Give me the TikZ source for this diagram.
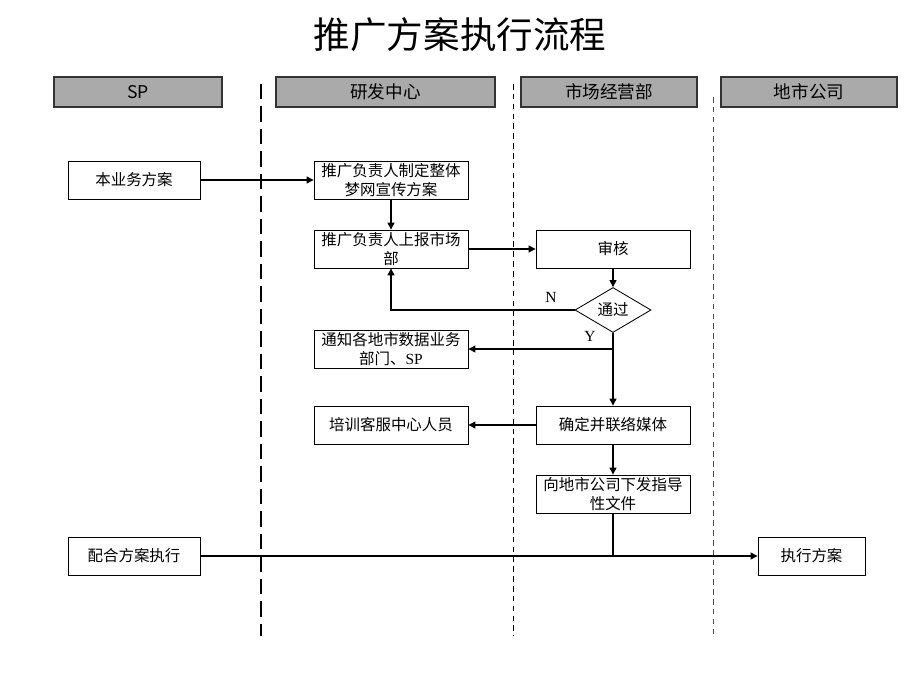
\documentclass[tikz,border=0pt]{standalone}
\usepackage{fontspec}
\setmainfont{Liberation Serif}
\newfontfamily\cjk{Noto Sans CJK SC}
\usetikzlibrary{arrows.meta,shapes.geometric}
\definecolor{lanegray}{RGB}{170,170,170}
\tikzset{
	lanehead/.style={draw=black!80, line width=0.9pt, fill=lanegray, minimum width=#1, minimum height=0.75cm, inner sep=0pt, font=\cjk\fontsize{12.5}{14}\selectfont},
	stepbox/.style={draw, line width=0.6pt, fill=white, minimum width=3.85cm, minimum height=0.95cm, inner sep=1pt, align=center, font=\cjk\fontsize{11}{13}\selectfont},
	decision/.style={draw, line width=0.6pt, fill=white, diamond, minimum width=1.9cm, minimum height=0.95cm, inner sep=0pt, font=\cjk\fontsize{11}{13}\selectfont},
	flowarrow/.style={line width=0.8pt, -{Triangle[length=5pt,width=5pt]}},
	flowline/.style={line width=0.8pt},
	branchlabel/.style={font=\fontsize{11}{13}\selectfont, inner sep=1pt}
}
\begin{document}
\begin{tikzpicture}[x=0.025cm, y=-0.025cm]
			%%%%% START %%%%%
			\useasboundingbox (0, 0) rectangle (920, 690);
			
			\node (title) at (460, 35) {\cjk\fontsize{26}{28}\selectfont 推广方案执行流程};
			
			% swim lane heads
			\node[lanehead=4.2cm] (sp) at (138, 92) {SP};
			\node[lanehead=5.475cm] (rnd) at (385.5, 92) {研发中心};
			\node[lanehead=4.4cm] (market) at (609, 92) {市场经营部};
			\node[lanehead=4.4cm] (city) at (809, 92) {地市公司};
			
			% lane borders
			\draw[line width=1.6pt, dash pattern=on 11pt off 5pt] (261, 84) -- (261, 636);
			\draw[line width=0.5pt, dash pattern=on 4pt off 3pt] (513, 84) -- (513, 636);
			\draw[line width=0.5pt, black!70, dash pattern=on 4pt off 3pt] (713, 97) -- (713, 634);
			
			% steps
			\node[stepbox, minimum width=3.3cm] (plan) at (134, 180) {本业务方案};
			\node[stepbox] (draft) at (391, 180) {推广负责人制定整体\\梦网宣传方案};
			\node[stepbox] (report) at (391, 249) {推广负责人上报市场\\部};
			\node[stepbox] (review) at (613, 249) {审核};
			\node[decision] (pass) at (613, 310) {通过};
			\node[stepbox] (notify) at (391, 349) {通知各地市数据业务\\部门、{\rmfamily SP}};
			\node[stepbox] (train) at (391, 425) {培训客服中心人员};
			\node[stepbox] (media) at (613, 425) {确定并联络媒体};
			\node[stepbox] (issue) at (613, 494) {向地市公司下发指导\\性文件};
			\node[stepbox, minimum width=3.3cm] (coop) at (134, 556) {配合方案执行};
			\node[stepbox, minimum width=2.675cm] (exec) at (811.5, 556) {执行方案};
			
			% connectors
			\draw[flowarrow] (plan) -- (draft);
			\draw[flowarrow] (draft) -- (report);
			\draw[flowarrow] (report) -- (review);
			\draw[flowarrow] (review) -- (pass);
			\draw[flowarrow] (pass.west) -| (report.south);
			\node[branchlabel] (nmark) at (551, 297) {N};
			\draw[flowarrow] (pass.south) -- (media.north);
			\draw[flowarrow] (pass.south |- notify.east) -- (notify.east);
			\node[branchlabel] (ymark) at (590, 336) {Y};
			\draw[flowarrow] (media) -- (train);
			\draw[flowarrow] (media) -- (issue);
			\draw[flowline] (issue.south) -- (issue.south |- coop.east);
			\draw[flowarrow] (coop) -- (exec);
			
			%%%%% END %%%%%
\end{tikzpicture}
\end{document}
